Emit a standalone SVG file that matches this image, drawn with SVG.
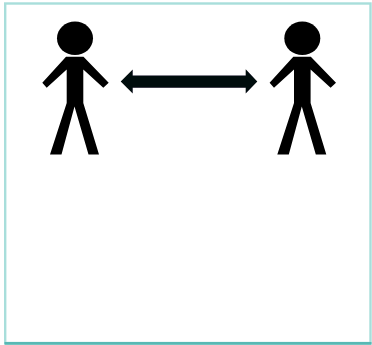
<svg xmlns="http://www.w3.org/2000/svg" width="372" height="345" viewBox="0 0 372 345">
  <defs>
    <filter id="soft" x="-5%" y="-5%" width="110%" height="110%"><feGaussianBlur stdDeviation="0.45"/></filter>
    <g id="person">
      <ellipse cx="75" cy="38.3" rx="18" ry="16.8"/>
      <polygon points="66,56.7 83.5,56.7 108.7,82.7 103.3,87.7 83.3,69.5 83.3,103 99,154.5 88.5,154.5 74.5,106.5 61.5,154.5 50,154.5 66.7,103 66.7,69.5 46.7,87.7 42.3,82.7"/>
    </g>
  </defs>
  <style>
    .figure { fill: #000; filter: url(#soft); }
    .link { fill: #03090f; filter: url(#soft); }
  </style>
  <rect width="372" height="345" fill="#fff"/>
  <g id="frame">
    <rect x="5.2" y="3.5" width="365.3" height="339.5" fill="#fff" stroke="#a8dedb" stroke-width="2.4"/>
    <rect x="4.5" y="342" width="367" height="2.8" fill="#58b8b4"/>
  </g>
  <g id="connectors">
    <polygon class="link" points="120.7,81.5 132.7,69.5 132.7,75.6 245.7,75.6 245.7,69.3 257.3,81.5 245.7,93.5 245.7,87.7 132.7,87.7 132.7,93.5"/>
  </g>
  <g id="person-left" class="figure"><use href="#person"/></g>
  <g id="person-right" class="figure"><use href="#person" x="227.3"/></g>
</svg>
